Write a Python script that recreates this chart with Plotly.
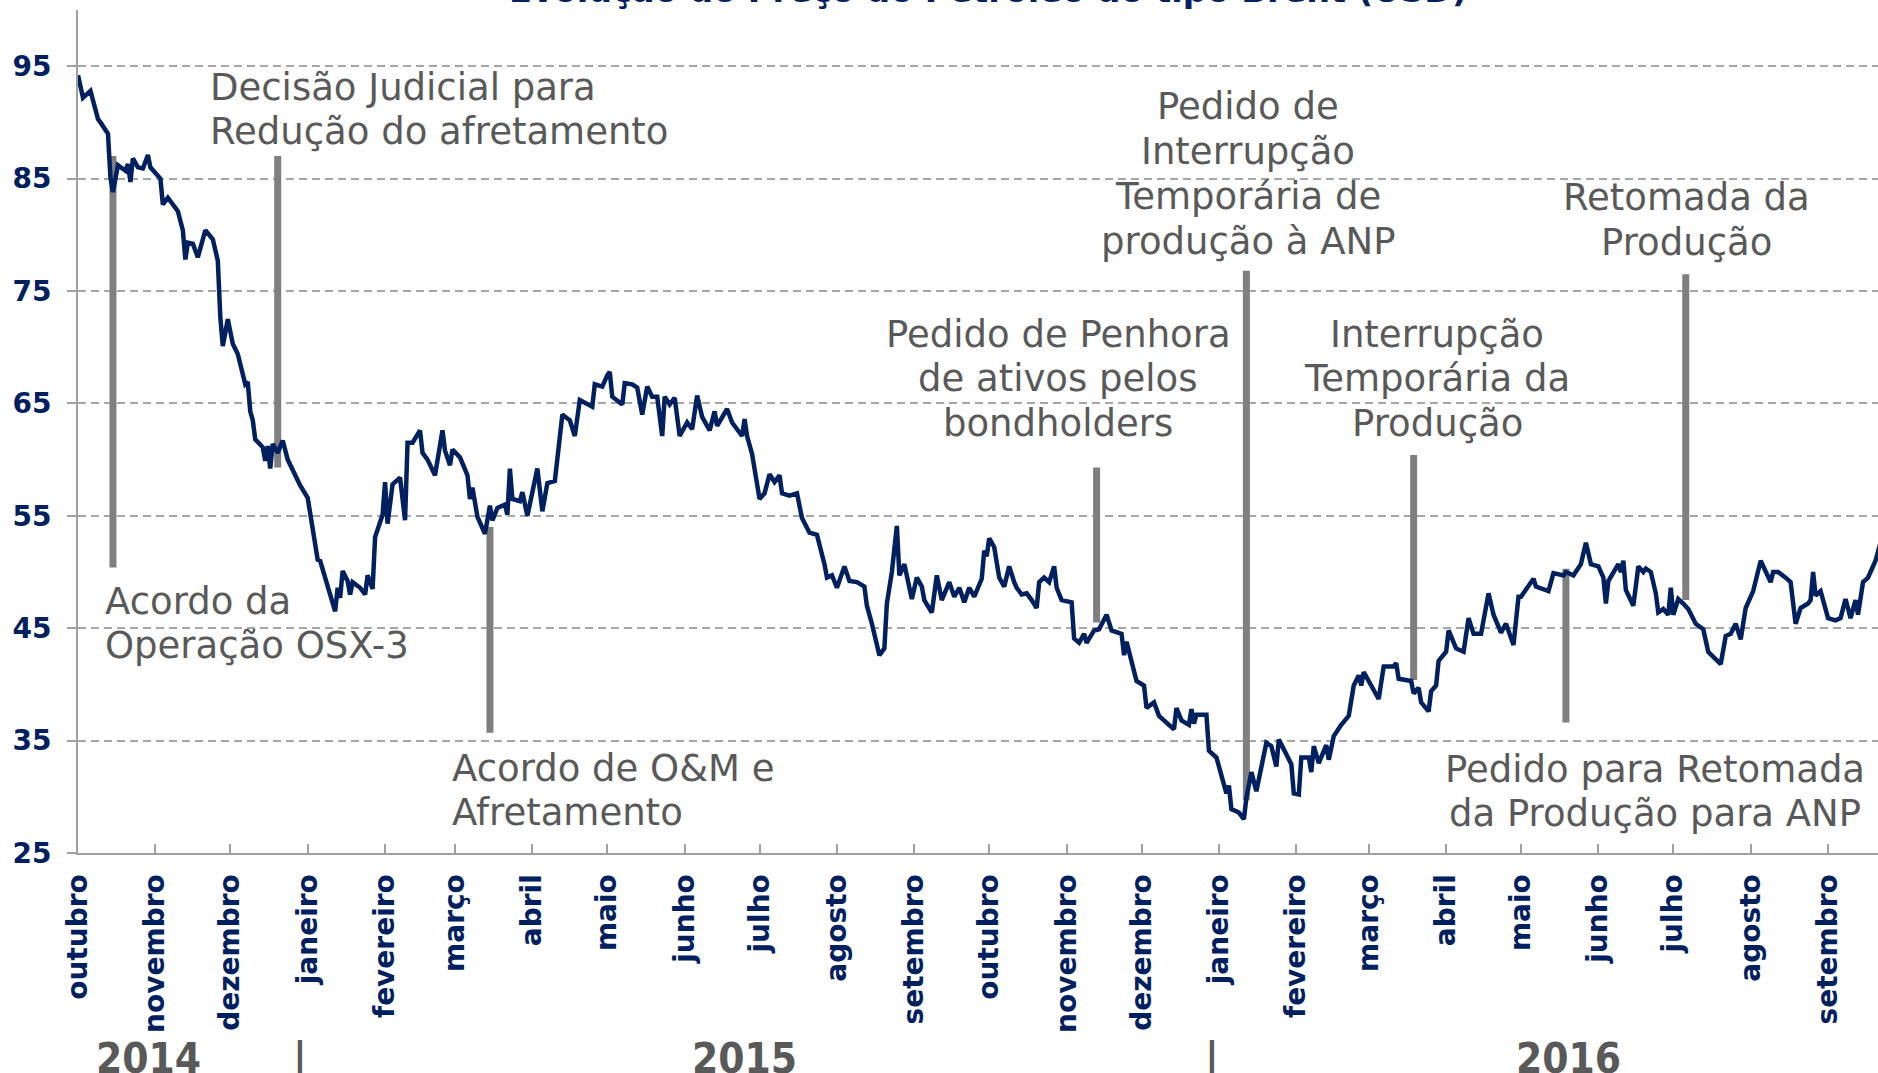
import plotly.graph_objects as go

# ---------------- data ----------------
dates = [
    "2014-10-01","2014-10-03","2014-10-06","2014-10-09","2014-10-10","2014-10-13","2014-10-14","2014-10-15",
    "2014-10-17","2014-10-20","2014-10-21","2014-10-22","2014-10-23","2014-10-25","2014-10-27","2014-10-29",
    "2014-10-30","2014-11-03","2014-11-04","2014-11-06","2014-11-10","2014-11-12","2014-11-13","2014-11-14",
    "2014-11-16","2014-11-18","2014-11-21","2014-11-24","2014-11-26","2014-11-27","2014-11-28","2014-11-30",
    "2014-12-02","2014-12-04","2014-12-07","2014-12-08","2014-12-09","2014-12-10","2014-12-11","2014-12-14",
    "2014-12-15","2014-12-16","2014-12-17","2014-12-18","2014-12-20","2014-12-22","2014-12-24","2014-12-28",
    "2014-12-29","2015-01-01","2015-01-03","2015-01-05","2015-01-06","2015-01-09","2015-01-12","2015-01-13",
    "2015-01-14","2015-01-15","2015-01-17","2015-01-18","2015-01-19","2015-01-22","2015-01-24","2015-01-25",
    "2015-01-27","2015-01-28","2015-01-30","2015-01-31","2015-02-01","2015-02-02","2015-02-04","2015-02-07",
    "2015-02-09","2015-02-10","2015-02-12","2015-02-15","2015-02-16","2015-02-18","2015-02-21","2015-02-23",
    "2015-02-24","2015-02-25","2015-02-27","2015-02-28","2015-03-03","2015-03-06","2015-03-07","2015-03-08",
    "2015-03-10","2015-03-13","2015-03-15","2015-03-16","2015-03-18","2015-03-21","2015-03-22","2015-03-23",
    "2015-03-24","2015-03-27","2015-03-28","2015-03-30","2015-04-03","2015-04-05","2015-04-07","2015-04-10",
    "2015-04-13","2015-04-16","2015-04-18","2015-04-20","2015-04-25","2015-04-26","2015-04-29","2015-05-01",
    "2015-05-02","2015-05-03","2015-05-07","2015-05-08","2015-05-11","2015-05-13","2015-05-15","2015-05-17",
    "2015-05-19","2015-05-21","2015-05-23","2015-05-24","2015-05-26","2015-05-28","2015-05-30","2015-06-02",
    "2015-06-04","2015-06-06","2015-06-08","2015-06-11","2015-06-13","2015-06-14","2015-06-18","2015-06-20",
    "2015-06-24","2015-06-25","2015-06-26","2015-06-28","2015-07-01","2015-07-03","2015-07-05","2015-07-07",
    "2015-07-09","2015-07-10","2015-07-13","2015-07-16","2015-07-18","2015-07-21","2015-07-24","2015-07-27",
    "2015-07-28","2015-07-30","2015-08-01","2015-08-04","2015-08-06","2015-08-09","2015-08-12","2015-08-13",
    "2015-08-15","2015-08-18","2015-08-20","2015-08-21","2015-08-23","2015-08-25","2015-08-26","2015-08-28",
    "2015-08-31","2015-09-02","2015-09-04","2015-09-05","2015-09-08","2015-09-10","2015-09-12","2015-09-15",
    "2015-09-17","2015-09-19","2015-09-21","2015-09-23","2015-09-25","2015-09-28","2015-09-29","2015-09-30",
    "2015-10-01","2015-10-03","2015-10-05","2015-10-07","2015-10-09","2015-10-11","2015-10-12","2015-10-14",
    "2015-10-16","2015-10-18","2015-10-20","2015-10-21","2015-10-23","2015-10-25","2015-10-27","2015-10-28",
    "2015-10-30","2015-11-03","2015-11-04","2015-11-06","2015-11-08","2015-11-09","2015-11-12","2015-11-14",
    "2015-11-17","2015-11-19","2015-11-23","2015-11-24","2015-11-25","2015-11-29","2015-12-02","2015-12-03",
    "2015-12-06","2015-12-08","2015-12-14","2015-12-15","2015-12-17","2015-12-20","2015-12-21","2015-12-22",
    "2015-12-23","2015-12-27","2015-12-28","2015-12-31","2016-01-02","2016-01-04","2016-01-05","2016-01-06",
    "2016-01-09","2016-01-11","2016-01-12","2016-01-14","2016-01-16","2016-01-20","2016-01-22","2016-01-24",
    "2016-01-25","2016-01-28","2016-01-30","2016-01-31","2016-02-02","2016-02-03","2016-02-06","2016-02-07",
    "2016-02-08","2016-02-10","2016-02-13","2016-02-14","2016-02-16","2016-02-19","2016-02-21","2016-02-22",
    "2016-02-24","2016-02-26","2016-02-27","2016-02-28","2016-03-02","2016-03-05","2016-03-07","2016-03-11",
    "2016-03-12","2016-03-13","2016-03-18","2016-03-19","2016-03-21","2016-03-22","2016-03-25","2016-03-26",
    "2016-03-28","2016-03-29","2016-04-01","2016-04-02","2016-04-05","2016-04-08","2016-04-10","2016-04-12",
    "2016-04-15","2016-04-18","2016-04-20","2016-04-23","2016-04-25","2016-04-28","2016-04-30","2016-05-01",
    "2016-05-06","2016-05-07","2016-05-12","2016-05-14","2016-05-18","2016-05-19","2016-05-22","2016-05-25",
    "2016-05-27","2016-05-29","2016-06-01","2016-06-03","2016-06-04","2016-06-05","2016-06-09","2016-06-10",
    "2016-06-11","2016-06-12","2016-06-15","2016-06-17","2016-06-19","2016-06-20","2016-06-22","2016-06-24",
    "2016-06-25","2016-06-27","2016-06-29","2016-06-30","2016-07-01","2016-07-03","2016-07-05","2016-07-07",
    "2016-07-10","2016-07-13","2016-07-15","2016-07-17","2016-07-20","2016-07-22","2016-07-24","2016-07-26",
    "2016-07-28","2016-07-30","2016-08-02","2016-08-05","2016-08-08","2016-08-09","2016-08-10","2016-08-12",
    "2016-08-15","2016-08-17","2016-08-19","2016-08-21","2016-08-24","2016-08-25","2016-08-26","2016-08-27",
    "2016-08-29","2016-09-01","2016-09-04","2016-09-06","2016-09-08","2016-09-10","2016-09-12","2016-09-13",
    "2016-09-15","2016-09-17","2016-09-20","2016-09-22",
]
brent = [
    94.2, 92.2, 92.8, 90.3, 90.0, 89.0, 85.1, 83.8,
    86.2, 85.7, 86.3, 84.7, 86.8, 86.0, 85.9, 87.1,
    86.0, 85.0, 82.7, 83.3, 82.1, 80.4, 77.8, 79.3,
    79.2, 78.0, 80.4, 79.6, 77.7, 72.7, 70.1, 72.5,
    70.3, 69.4, 66.7, 66.9, 64.3, 63.5, 61.8, 61.1,
    59.9, 61.2, 59.2, 61.4, 60.6, 61.7, 60.0, 58.0,
    57.7, 56.6, 54.0, 51.1, 51.0, 48.9, 46.5, 48.6,
    47.7, 50.1, 49.2, 48.0, 49.1, 48.6, 48.0, 49.7,
    48.5, 53.1, 54.3, 55.1, 58.0, 54.3, 57.8, 58.4,
    54.6, 61.5, 61.5, 62.6, 60.6, 60.0, 58.6, 61.7,
    62.6, 60.8, 59.5, 60.9, 60.2, 58.6, 56.5, 57.5,
    54.9, 53.4, 55.9, 54.6, 55.7, 56.0, 55.1, 59.2,
    56.5, 56.3, 57.1, 55.0, 59.2, 55.4, 57.9, 58.1,
    64.0, 63.5, 62.1, 65.3, 64.7, 66.7, 66.5, 67.5,
    67.8, 65.6, 64.9, 66.8, 66.7, 66.4, 64.0, 66.5,
    65.6, 65.6, 62.1, 65.6, 64.9, 65.5, 62.1, 63.3,
    62.7, 65.7, 63.8, 62.6, 64.3, 63.0, 64.5, 63.3,
    62.1, 63.6, 62.1, 60.5, 56.5, 57.0, 58.7, 58.0,
    58.6, 57.0, 56.8, 57.0, 54.8, 53.5, 53.3, 50.7,
    49.5, 49.7, 48.6, 50.5, 49.2, 49.1, 48.7, 47.0,
    45.4, 42.6, 43.2, 47.2, 50.0, 54.1, 49.7, 50.7,
    47.6, 49.5, 48.7, 47.5, 46.4, 49.7, 47.5, 49.1,
    47.8, 48.6, 47.3, 48.6, 47.8, 49.4, 51.9, 51.4,
    53.0, 52.2, 49.5, 48.7, 50.5, 49.1, 48.6, 48.0,
    48.1, 47.5, 46.8, 49.1, 49.5, 49.1, 50.5, 48.6,
    47.5, 47.3, 44.1, 43.7, 44.5, 43.7, 44.8, 44.9,
    46.2, 44.8, 44.5, 42.6, 43.8, 40.3, 39.9, 37.9,
    38.4, 37.2, 36.0, 37.9, 36.8, 36.4, 37.8, 36.5,
    37.3, 37.3, 34.1, 33.5, 31.8, 30.3, 31.0, 28.9,
    28.6, 28.0, 29.9, 32.2, 30.5, 34.8, 34.5, 32.7,
    35.1, 33.7, 32.9, 30.3, 30.2, 33.5, 33.5, 32.2,
    34.5, 33.0, 34.6, 33.3, 35.4, 36.4, 37.0, 37.2,
    39.9, 40.8, 39.9, 41.1, 39.9, 38.7, 41.6, 41.6,
    41.9, 40.5, 40.3, 39.2, 39.7, 38.4, 37.6, 39.4,
    39.9, 42.1, 42.9, 44.8, 43.2, 42.9, 45.9, 44.5,
    44.5, 48.1, 46.2, 44.6, 45.4, 43.5, 47.8, 47.8,
    49.4, 48.7, 48.3, 49.9, 49.7, 50.0, 49.7, 50.7,
    52.6, 50.7, 50.5, 49.5, 47.2, 49.2, 50.7, 50.0,
    51.0, 48.4, 47.0, 50.5, 50.0, 50.3, 50.0, 48.1,
    46.4, 46.7, 46.2, 48.6, 46.2, 47.6, 47.2, 46.7,
    45.4, 44.9, 42.9, 42.4, 41.8, 44.3, 44.5, 45.4,
    44.0, 46.8, 48.3, 51.0, 49.4, 49.1, 50.0, 50.0,
    49.5, 49.1, 45.4, 46.8, 47.2, 47.5, 50.0, 47.9,
    48.3, 45.9, 45.7, 45.9, 47.6, 45.9, 47.5, 46.2,
    49.1, 49.5, 51.0, 52.6,
]

month_ticks = [
    "2014-10-01","2014-11-01","2014-12-01","2015-01-01","2015-02-01","2015-03-01",
    "2015-04-01","2015-05-01","2015-06-01","2015-07-01","2015-08-01","2015-09-01",
    "2015-10-01","2015-11-01","2015-12-01","2016-01-01","2016-02-01","2016-03-01",
    "2016-04-01","2016-05-01","2016-06-01","2016-07-01","2016-08-01","2016-09-01",
]
month_names = [
    "outubro","novembro","dezembro","janeiro","fevereiro","março",
    "abril","maio","junho","julho","agosto","setembro",
    "outubro","novembro","dezembro","janeiro","fevereiro","março",
    "abril","maio","junho","julho","agosto","setembro",
]
y_ticks = [25, 35, 45, 55, 65, 75, 85, 95]

# event markers (vertical bars): date, lower value, upper value
event_dates = ["2014-10-15","2014-12-20","2015-03-15","2015-11-13",
               "2016-01-12","2016-03-19","2016-05-19","2016-07-06"]
event_low  = [50.4, 59.3, 35.7, 45.5, 29.7, 40.4, 36.6, 47.5]
event_high = [87.0, 87.0, 54.0, 59.3, 76.8, 60.4, 50.3, 76.5]

event_texts = [
    ["Acordo da", "Operação OSX-3"],
    ["Decisão Judicial para", "Redução do afretamento"],
    ["Acordo de O&amp;M e", "Afretamento"],
    ["Pedido de Penhora", "de ativos pelos", "bondholders"],
    ["Pedido de", "Interrupção", "Temporária de", "produção à ANP"],
    ["Interrupção", "Temporária da", "Produção"],
    ["Pedido para Retomada", "da Produção para ANP"],
    ["Retomada da", "Produção"],
]

title_text = "Evolução do Preço do Petróleo do tipo Brent (USD)"
year_labels = ["2014", "|", "2015", "|", "2016"]

# ---------------- layout / style ----------------
W, H = 1878, 1073
ML, MR, MT, MB = 78, 0, 10, 220
PW, PH = W - ML - MR, H - MT - MB

NAVY = "#002060"
GRAY_TXT = "#595959"
BAR = "#7f7f7f"
AXIS = "#a0a0a0"
GRID = "#a6a6a6"

def px_x(px):
    return (px - ML) / PW

def px_y(py):
    return (H - MB - py) / PH

# text block placement in pixels: (x, xanchor, first line centre y)
text_pos = [
    (103, "left", 601),
    (208, "left", 87),
    (450, "left", 768),
    (1058, "center", 334),
    (1248, "center", 107),
    (1437, "center", 334),
    (1655, "center", 769),
    (1686, "center", 198),
]
LINE_STEP = 44.7
year_pos = [148, 300, 744, 1212, 1568]

fig = go.Figure()
fig.add_trace(go.Scatter(
    x=dates, y=brent, mode="lines",
    line=dict(color=NAVY, width=4.5),
    showlegend=False, hoverinfo="skip",
))

shapes = []
for d, lo, hi in zip(event_dates, event_low, event_high):
    shapes.append(dict(type="line", xref="x", yref="y", x0=d, x1=d, y0=lo, y1=hi,
                       line=dict(color=BAR, width=7), layer="between"))

annotations = []
for lines, (tx, anchor, ty) in zip(event_texts, text_pos):
    for i, ln in enumerate(lines):
        annotations.append(dict(
            text=ln, xref="paper", yref="paper", x=px_x(tx), y=px_y(ty + i * LINE_STEP),
            xanchor=anchor, yanchor="middle", showarrow=False,
            font=dict(family="DejaVu Sans", size=37, color=GRAY_TXT),
        ))

for lab, xp in zip(year_labels, year_pos):
    annotations.append(dict(
        text=lab, xref="paper", yref="paper", x=px_x(xp), y=px_y(1032),
        xanchor="center", yanchor="top", showarrow=False,
        font=dict(family="DejaVu Sans Condensed, DejaVu Sans", size=42,
                  color=GRAY_TXT, weight="bold"),
    ))

annotations.append(dict(
    text=title_text, xref="paper", yref="paper", x=px_x(988), y=px_y(4),
    xanchor="center", yanchor="bottom", showarrow=False, yshift=-8,
    font=dict(family="DejaVu Sans", size=33.5, color=NAVY, weight="bold"),
))

fig.update_layout(
    width=W, height=H,
    margin=dict(l=ML, r=MR, t=MT, b=MB, pad=0, autoexpand=False),
    paper_bgcolor="white", plot_bgcolor="white",
    shapes=shapes, annotations=annotations,
    xaxis=dict(
        type="date", range=["2014-10-01", "2016-09-21"], automargin=False,
        tickmode="array", tickvals=month_ticks, ticktext=month_names,
        tickangle=-90, ticks="inside", ticklen=9, tickwidth=2, tickcolor=AXIS,
        showline=True, linecolor=AXIS, linewidth=2, showgrid=False, zeroline=False,
        tickfont=dict(family="DejaVu Sans", size=28, color=NAVY, weight="bold"),
        ticklabelstandoff=8,
    ),
    yaxis=dict(
        range=[25, 100], tickmode="array", tickvals=y_ticks, automargin=False,
        ticks="outside", ticklen=9, tickwidth=2, tickcolor=AXIS,
        showline=True, linecolor=AXIS, linewidth=2,
        showgrid=True, gridcolor=GRID, gridwidth=2, griddash="8px,5px", zeroline=False,
        tickfont=dict(family="DejaVu Sans", size=28, color=NAVY, weight="bold"),
        ticklabelstandoff=10,
    ),
)

fig.write_html(
    "out.html",
    config={"displayModeBar": False},
    post_script="document.body.style.margin='0px';document.body.style.overflow='hidden';",
)
